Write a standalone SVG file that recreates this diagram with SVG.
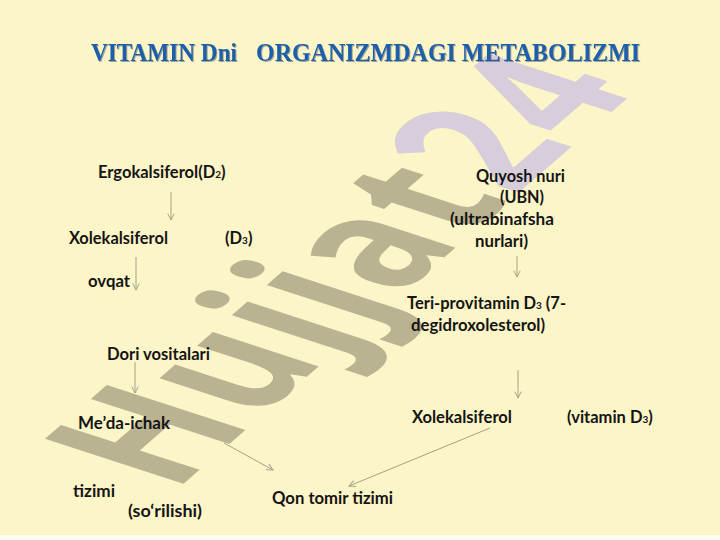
<svg xmlns="http://www.w3.org/2000/svg" width="720" height="540" viewBox="0 0 720 540">
  <defs>
    <style>
      .t { font-family: "Lato", "Open Sans", "Liberation Sans", sans-serif; font-weight: bold; font-size: 16.5px; fill: #141414; }
      .sub { font-size: 10px; }
      .title { font-family: "Liberation Serif", "Times New Roman", serif; font-weight: bold; font-size: 25.5px; fill: #1d5eab; }
      .wm { font-family: "Open Sans", "Liberation Sans", sans-serif; font-weight: bold; font-size: 100px; letter-spacing: 2.5px; }
      .conn line { stroke: #a4a286; stroke-width: 1; fill: none; }
    </style>
    <marker id="ah" viewBox="0 0 10 10" refX="9" refY="5" markerWidth="8" markerHeight="8" markerUnits="userSpaceOnUse" orient="auto">
      <path d="M1,1 L9,5 L1,9" fill="none" stroke="#a4a286" stroke-width="1.2"/>
    </marker>
    <filter id="sh" x="-5%" y="-20%" width="110%" height="150%">
      <feDropShadow dx="1" dy="1" stdDeviation="0.6" flood-color="#404040" flood-opacity="0.45"/>
    </filter>
  </defs>

  <rect width="720" height="540" fill="#fcf5c8"/>
  <rect y="535" width="720" height="5" fill="#fffdf0"/>

  <g id="watermark">
    <text class="wm" transform="matrix(1.057,-0.918,1.94,0.63,174,492)" fill="#bab392">Hujjat<tspan fill="#d8cedb">24</tspan></text>
  </g>

  <g id="title" filter="url(#sh)">
    <text class="title" x="91" y="61" textLength="146" lengthAdjust="spacingAndGlyphs">VITAMIN Dni</text>
    <text class="title" x="256" y="61" textLength="384" lengthAdjust="spacingAndGlyphs">ORGANIZMDAGI METABOLIZMI</text>
  </g>

  <g id="connectors" class="conn">
    <line x1="171" y1="192" x2="171" y2="220" marker-end="url(#ah)"/>
    <line x1="136" y1="257" x2="136" y2="290" marker-end="url(#ah)"/>
    <line x1="135" y1="362" x2="135" y2="393" marker-end="url(#ah)"/>
    <line x1="224" y1="443" x2="273" y2="470" marker-end="url(#ah)"/>
    <line x1="517" y1="256" x2="517" y2="277" marker-end="url(#ah)"/>
    <line x1="518" y1="370" x2="518" y2="398" marker-end="url(#ah)"/>
    <line x1="490" y1="428" x2="349" y2="486" marker-end="url(#ah)"/>
  </g>

  <g id="ergokalsiferol">
    <text class="t" x="98" y="178">Ergokalsiferol(D<tspan class="sub">2</tspan>)</text>
  </g>
  <g id="xolekalsiferol-left">
    <text class="t" x="69" y="244" textLength="99" lengthAdjust="spacingAndGlyphs">Xolekalsiferol</text>
    <text class="t" x="225" y="244">(D<tspan class="sub">3</tspan>)</text>
  </g>
  <g id="ovqat">
    <text class="t" x="88" y="287" textLength="42" lengthAdjust="spacingAndGlyphs">ovqat</text>
  </g>
  <g id="dori">
    <text class="t" x="107" y="360" textLength="103" lengthAdjust="spacingAndGlyphs">Dori vositalari</text>
  </g>
  <g id="medaichak">
    <text class="t" x="78" y="429" textLength="92" lengthAdjust="spacingAndGlyphs">Me’da-ichak</text>
    <text class="t" x="73" y="497" textLength="42" lengthAdjust="spacingAndGlyphs">tizimi</text>
    <text class="t" x="128" y="517" textLength="74" lengthAdjust="spacingAndGlyphs">(so‘rilishi)</text>
  </g>
  <g id="qontomir">
    <text class="t" x="272" y="504" textLength="121" lengthAdjust="spacingAndGlyphs">Qon tomir tizimi</text>
  </g>
  <g id="quyosh">
    <text class="t" x="476" y="182" textLength="89" lengthAdjust="spacingAndGlyphs">Quyosh nuri</text>
    <text class="t" x="500" y="203" textLength="44" lengthAdjust="spacingAndGlyphs">(UBN)</text>
    <text class="t" x="450" y="225" textLength="104" lengthAdjust="spacingAndGlyphs">(ultrabinafsha</text>
    <text class="t" x="475" y="246.5" textLength="53" lengthAdjust="spacingAndGlyphs">nurlari)</text>
  </g>
  <g id="teri">
    <text class="t" x="407" y="309">Teri-provitamin D<tspan class="sub">3</tspan> (7-</text>
    <text class="t" x="411" y="331" textLength="134" lengthAdjust="spacingAndGlyphs">degidroxolesterol)</text>
  </g>
  <g id="xolekalsiferol-right">
    <text class="t" x="412" y="423" textLength="100" lengthAdjust="spacingAndGlyphs">Xolekalsiferol</text>
    <text class="t" x="567" y="423">(vitamin D<tspan class="sub">3</tspan>)</text>
  </g>
</svg>
